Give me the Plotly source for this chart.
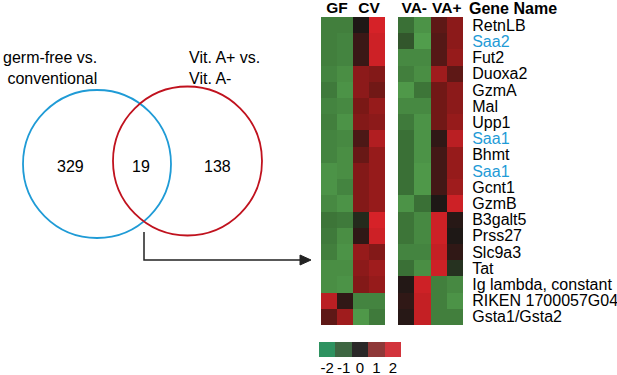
import plotly.graph_objects as go

# ---------------- data ----------------
set_labels = ["germ-free vs.<br>conventional", "Vit. A+ vs.<br>Vit. A-"]
venn_counts = [329, 19, 138]  # only-left, overlap, only-right

genes = ["RetnLB", "Saa2", "Fut2", "Duoxa2", "GzmA", "Mal", "Upp1", "Saa1", "Bhmt",
         "Saa1", "Gcnt1", "GzmB", "B3galt5", "Prss27", "Slc9a3", "Tat",
         "Ig lambda, constant", "RIKEN 1700057G04", "Gsta1/Gsta2"]
highlight = ["Saa2", "Saa1"]

left_groups = ["GF", "CV"]
right_groups = ["VA-", "VA+"]

# GF, GF, CV, CV
left_vals = [
    [-1.3, -1.3, 0.0, 2.0],
    [-1.3, -1.4, 0.3, 1.9],
    [-1.3, -1.4, 0.3, 1.9],
    [-1.4, -1.6, 1.2, 1.1],
    [-1.2, -1.7, 1.2, 0.9],
    [-1.4, -1.5, 1.0, 1.3],
    [-1.3, -1.7, 1.1, 1.2],
    [-1.4, -1.5, 0.5, 1.6],
    [-1.4, -1.6, 0.8, 1.3],
    [-1.7, -1.6, 1.1, 1.3],
    [-1.7, -1.4, 1.1, 1.3],
    [-1.5, -1.7, 1.1, 1.3],
    [-1.1, -1.2, -0.2, 2.0],
    [-1.2, -1.6, 0.2, 1.9],
    [-1.3, -1.7, 1.3, 1.1],
    [-1.6, -1.6, 1.2, 1.4],
    [-1.6, -1.7, 1.1, 1.3],
    [1.7, 0.2, -1.4, -1.4],
    [0.7, 1.4, -1.8, -1.2],
]
# VA-, VA-, VA+, VA+
right_vals = [
    [-1.0, -1.7, 0.7, 1.2],
    [-0.7, -1.9, 0.6, 1.2],
    [-1.5, -1.5, 0.6, 1.3],
    [-1.3, -1.6, 1.4, 0.7],
    [-1.8, -1.1, 0.9, 1.2],
    [-1.5, -1.5, 0.9, 1.2],
    [-1.2, -1.7, 0.9, 1.3],
    [-1.0, -1.7, 0.2, 1.7],
    [-1.0, -1.7, 0.4, 1.3],
    [-1.0, -1.8, 0.4, 1.3],
    [-1.0, -1.8, 0.4, 1.4],
    [-1.7, -1.0, 0.0, 1.9],
    [-1.1, -1.5, 1.9, 0.1],
    [-1.1, -1.5, 1.9, 0.0],
    [-1.4, -1.4, 1.8, 0.2],
    [-1.0, -1.6, 1.9, -0.3],
    [0.05, 1.9, -1.3, -1.5],
    [0.2, 1.8, -1.3, -1.7],
    [0.1, 1.8, -1.3, -1.3],
]
legend_vals = [-2, -1, 0, 1, 2]

# ---------------- style ----------------
W, H = 617, 375
FONT = "Arial, Liberation Sans, sans-serif"
BLUE = "#1f9bd6"
RED = "#c0121e"
cell_scale = [[0.0, "rgb(84,162,78)"], [0.25, "rgb(58,112,54)"], [0.5, "rgb(30,24,22)"],
              [0.75, "rgb(122,24,22)"], [1.0, "rgb(214,34,40)"]]
legend_colors = ["rgb(46,146,96)", "rgb(62,102,66)", "rgb(42,40,40)", "rgb(142,56,56)", "rgb(210,52,60)"]
legend_scale = []
for i, c in enumerate(legend_colors):
    legend_scale += [[i / 5, c], [(i + 1) / 5, c]]

def px_x(a, b):
    return [a / W, b / W]

def px_y(top, bottom):
    return [1 - bottom / H, 1 - top / H]

fig = go.Figure()

rows = list(range(len(genes)))
fig.add_trace(go.Heatmap(z=left_vals, x=[0, 1, 2, 3], y=rows, zmin=-2, zmax=2,
                         colorscale=cell_scale, showscale=False, xaxis="x2", yaxis="y2",
                         hoverinfo="skip"))
fig.add_trace(go.Heatmap(z=right_vals, x=[0, 1, 2, 3], y=rows, zmin=-2, zmax=2,
                         colorscale=cell_scale, showscale=False, xaxis="x3", yaxis="y3",
                         hoverinfo="skip"))
fig.add_trace(go.Heatmap(z=[legend_vals], x=legend_vals, y=[0], zmin=-2.5, zmax=2.5,
                         colorscale=legend_scale, showscale=False, xaxis="x4", yaxis="y4",
                         hoverinfo="skip"))

tick_text = [f"<span style='color:{BLUE}'>{g}</span>" if g in highlight else g for g in genes]

hm_top, hm_bot = 17, 325
common = dict(automargin=False, showgrid=False, zeroline=False, showline=False, fixedrange=True)
fig.update_layout(
    width=W, height=H, margin=dict(l=0, r=0, t=0, b=0, autoexpand=False),
    paper_bgcolor="white", plot_bgcolor="rgba(0,0,0,0)",
    font=dict(family=FONT, size=15, color="black"),
    showlegend=False,
    xaxis=dict(domain=[0, 1], range=[0, W], visible=False, **common),
    yaxis=dict(domain=[0, 1], range=[H, 0], visible=False, **common),
    xaxis2=dict(domain=px_x(321, 385), anchor="y2", range=[-0.5, 3.5], side="top",
                tickvals=[0.5, 2.5], ticktext=[f"<b>{g}</b>" for g in left_groups],
                ticks="", tickfont=dict(size=15.5), **common),
    yaxis2=dict(domain=px_y(hm_top, hm_bot), anchor="x2", range=[len(genes) - 0.5, -0.5],
                showticklabels=False, ticks="", **common),
    xaxis3=dict(domain=px_x(398, 463), anchor="y3", range=[-0.5, 3.5], side="top",
                tickvals=[0.5, 2.5], ticktext=[f"<b>{g}</b>" for g in right_groups],
                ticks="", tickfont=dict(size=15.5), **common),
    yaxis3=dict(domain=px_y(hm_top, hm_bot), anchor="x3", range=[len(genes) - 0.5, -0.5],
                side="right", tickvals=rows, ticktext=tick_text, ticks="outside",
                ticklen=5, tickcolor="rgba(0,0,0,0)", tickfont=dict(size=16), **common),
    xaxis4=dict(domain=px_x(319, 401), anchor="y4", range=[-2.5, 2.5],
                tickvals=legend_vals, ticktext=[str(v) for v in legend_vals],
                ticks="", tickfont=dict(size=15), **common),
    yaxis4=dict(domain=px_y(342, 357), anchor="x4", range=[-0.5, 0.5], visible=False, **common),
)

# Venn circles
circles = [(97, 164, 74, BLUE), (187.5, 161, 74.5, RED)]
for cx, cy, r, col in circles:
    fig.add_shape(type="circle", xref="x", yref="y", x0=cx - r, x1=cx + r,
                  y0=cy - r, y1=cy + r, line=dict(color=col, width=1.8))

# Venn counts
for xx, val in zip([70, 141, 217], venn_counts):
    fig.add_annotation(x=xx, y=166, xref="x", yref="y", text=str(val), showarrow=False,
                       font=dict(size=16))

# Set labels
fig.add_annotation(x=50, y=68, xref="x", yref="y", text=set_labels[0], showarrow=False,
                   align="right", xanchor="center", font=dict(size=16))
fig.add_annotation(x=187, y=68, xref="x", yref="y", text=set_labels[1], showarrow=False,
                   align="left", xanchor="left", font=dict(size=16))

# Gene Name header
fig.add_annotation(x=467, y=8, xref="x", yref="y", text="<b>Gene Name</b>", showarrow=False,
                   xanchor="left", font=dict(size=16))

# Connector arrow
fig.add_shape(type="path", xref="x", yref="y", path="M 144 232 L 144 260 L 302 260",
              line=dict(color="#222222", width=1.5))
fig.add_shape(type="path", xref="x", yref="y", path="M 300 255 L 311 260 L 300 265 Z",
              fillcolor="#222222", line=dict(color="#222222", width=1))

fig.write_html("out.html", config={"displayModeBar": False},
               post_script="document.body.style.margin='0';document.body.style.overflow='hidden';")
